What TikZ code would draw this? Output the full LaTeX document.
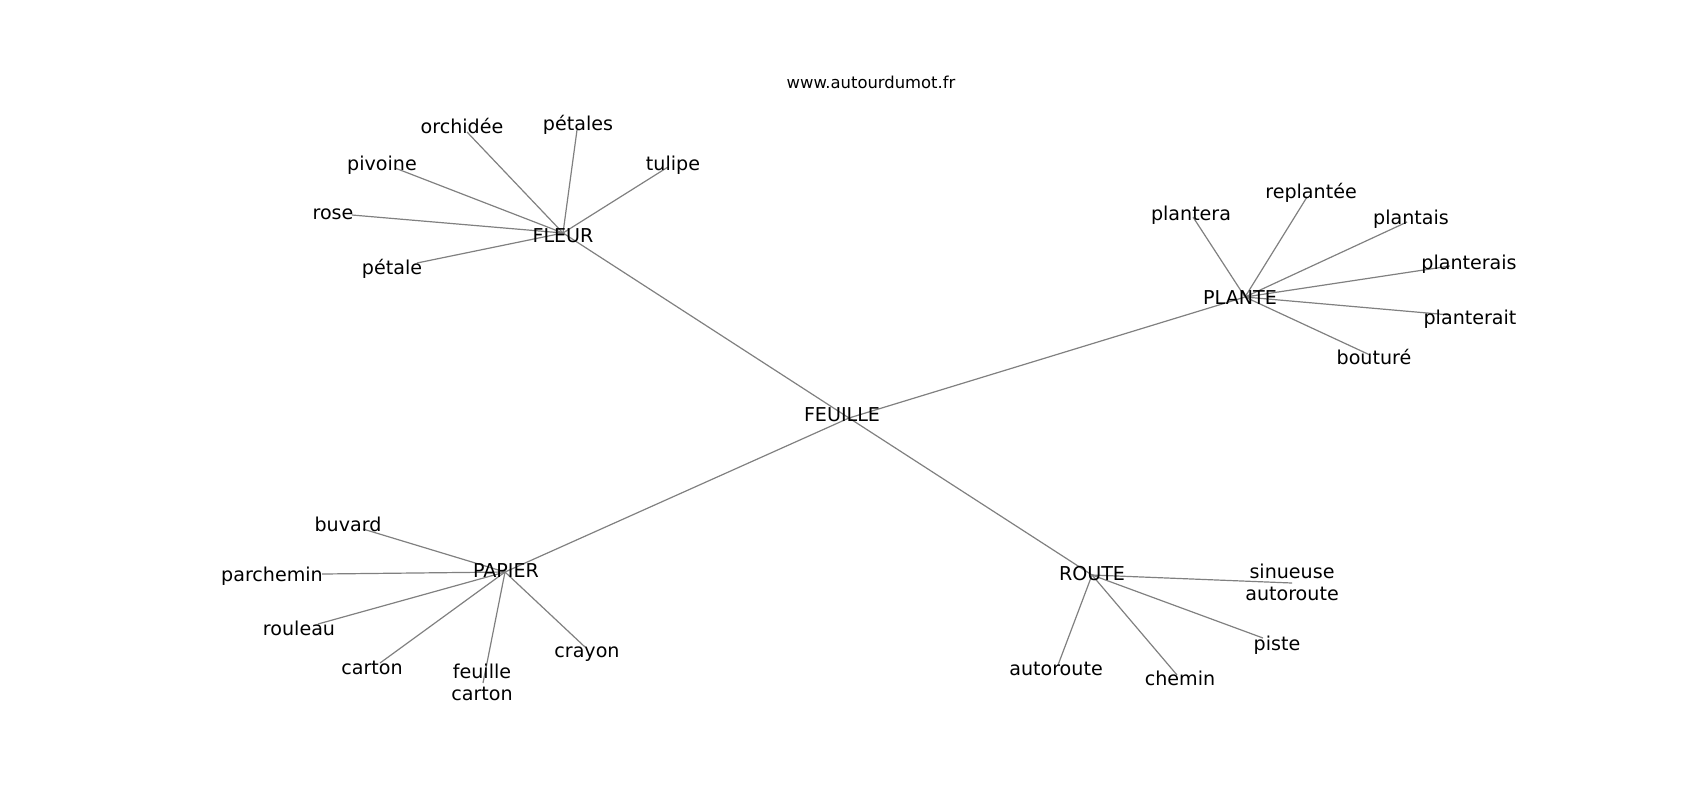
\documentclass[tikz,border=0pt]{standalone}
\usepackage{fontspec}
\setmainfont{DejaVu Sans}
\usepackage{tikz}

\tikzset{
  edge/.style={draw=gray, line width=0.6pt},
  word/.style={inner sep=0pt, text height=0.73em, text depth=0pt, align=center,
    font=\fontsize{9.55}{10.8}\selectfont},
}

\begin{document}
\begin{tikzpicture}[x=0.5pt, y=-0.5pt]
    \useasboundingbox (0, 0) rectangle (1700, 800);
    \node[inner sep=0pt, text height=0.73em, text depth=0pt, font=\fontsize{8.2}{9}\selectfont] (site) at (871, 81) {www.autourdumot.fr};

    % centre and the four hubs
    \coordinate (feuille) at (849, 418);
    \coordinate (fleur) at (563, 233);
    \coordinate (plante) at (1245, 297);
    \coordinate (papier) at (505, 572);
    \coordinate (route) at (1092, 575);
    \foreach \hub in {fleur, plante, papier, route}
        \draw[edge] (feuille) -- (\hub);

    % leaves: name/hub/vertex x/vertex y
    \foreach \w/\hub/\x/\y in {orchidee/fleur/467/132, petales/fleur/577/130, pivoine/fleur/395/168,
        tulipe/fleur/668/167, rose/fleur/352/215, petale/fleur/417/263,
        plantera/plante/1193/217, replantee/plante/1307/197, plantais/plante/1407/222,
        planterais/plante/1450/266, planterait/plante/1450/315, bouture/plante/1370/355,
        buvard/papier/363/529, parchemin/papier/322/574, rouleau/papier/318/624,
        carton/papier/380/663, feuillecarton/papier/483/683, crayon/papier/585/647,
        sinueuse/route/1292/583, piste/route/1263/638, autoroute/route/1058/665, chemin/route/1177/675}
    {
        \coordinate (\w) at (\x, \y);
        \draw[edge] (\hub) -- (\w);
    }

    % labels
    \node[word] (feuilleL) at (842, 414) {FEUILLE};
    \node[word] (fleurL) at (563, 235) {FLEUR};
    \node[word] (planteL) at (1240, 297) {PLANTE};
    \node[word] (papierL) at (506, 570) {PAPIER};
    \node[word] (routeL) at (1092, 573) {ROUTE};

    \node[word] (orchideeL) at (462, 126) {orchidée};
    \node[word] (petalesL) at (578, 123) {pétales};
    \node[word] (pivoineL) at (382, 163) {pivoine};
    \node[word] (tulipeL) at (673, 163) {tulipe};
    \node[word] (roseL) at (333, 212) {rose};
    \node[word] (petaleL) at (392, 267) {pétale};

    \node[word] (planteraL) at (1191, 213) {plantera};
    \node[word] (replanteeL) at (1311, 191) {replantée};
    \node[word] (plantaisL) at (1411, 217) {plantais};
    \node[word] (planteraisL) at (1469, 262) {planterais};
    \node[word] (planteraitL) at (1470, 317) {planterait};
    \node[word] (boutureL) at (1374, 357) {bouturé};

    \node[word] (buvardL) at (348, 524) {buvard};
    \node[word] (parcheminL) at (272, 574) {parchemin};
    \node[word] (rouleauL) at (299, 628) {rouleau};
    \node[word] (cartonL) at (372, 667) {carton};
    \node[word] (feuillecartonL) at (482, 693) {feuille\\carton};
    \node[word] (crayonL) at (587, 650) {crayon};

    \node[word] (sinueuseL) at (1292, 593) {sinueuse\\autoroute};
    \node[word] (pisteL) at (1277, 643) {piste};
    \node[word] (autorouteL) at (1056, 668) {autoroute};
    \node[word] (cheminL) at (1180, 678) {chemin};
\end{tikzpicture}
\end{document}
